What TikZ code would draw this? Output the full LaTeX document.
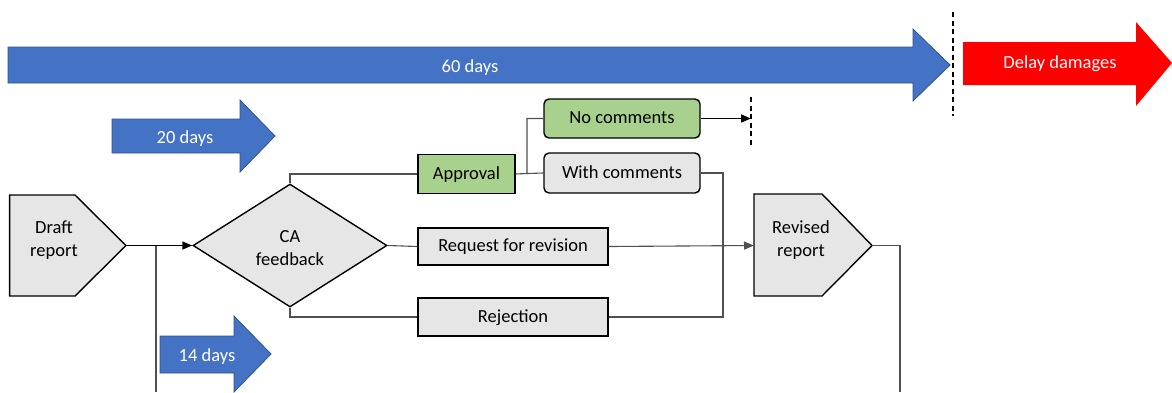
\documentclass[tikz,border=0pt]{standalone}
\usepackage{fontspec}
\setmainfont{Carlito}
\usetikzlibrary{shapes.geometric,arrows.meta}
\definecolor{cblue}{HTML}{4472C4}
\definecolor{cblueedge}{HTML}{2F528F}
\definecolor{cred}{HTML}{FF0000}
\definecolor{cgreen}{HTML}{A9D18E}
\definecolor{cgray}{HTML}{E6E6E6}
\definecolor{cline}{HTML}{505050}
\tikzset{
  txt/.style={font=\fontsize{18.5}{23}\selectfont, align=center, inner sep=0pt},
  wtxt/.style={txt, text=white},
  bluearrow/.style={fill=cblue, draw=cblueedge, line width=0.8pt},
  redarrow/.style={fill=cred},
  shapeline/.style={draw=black, line width=1.4pt, fill=cgray},
  box/.style={shapeline, rectangle, minimum height=38pt, inner sep=0pt, text height=13pt, text depth=3pt, font=\fontsize{18.5}{23}\selectfont},
  gbox/.style={box, fill=cgreen},
  conn/.style={draw=cline, line width=1.1pt},
  mainconn/.style={draw=black, line width=1.6pt},
  tip/.style={-{Triangle[length=10pt,width=8pt]}},
  dashline/.style={draw=black, line width=1.1pt, dash pattern=on 5pt off 3.5pt}
}
\begin{document}
\begin{tikzpicture}[x=1pt,y=-1pt]
\useasboundingbox (0,0) rectangle (1172,392);

% big arrows
\path[bluearrow] (8,47) -- (913,47) -- (913,29) -- (950,65) -- (913,101) -- (913,83) -- (8,83) -- cycle;
\node[wtxt] (d60) at (470,68) {60 days};
\path[redarrow] (963,42) -- (1136,42) -- (1136,22) -- (1172,63) -- (1136,106) -- (1136,85) -- (963,85) -- cycle;
\node[wtxt] (delay) at (1060,64) {Delay damages};
\path[bluearrow] (112,119) -- (240,119) -- (240,100) -- (275,136) -- (240,172) -- (240,153) -- (112,153) -- cycle;
\node[wtxt] (d20) at (185,139) {20 days};
\path[bluearrow] (160,336) -- (234,336) -- (234,316) -- (271,354) -- (234,392) -- (234,373) -- (160,373) -- cycle;
\node[wtxt] (d14) at (207,357) {14 days};

% dashed lines
\coordinate (dashAtop) at (953,12);
\coordinate (dashAbot) at (953,116);
\draw[dashline] (dashAtop) -- (dashAbot);
\coordinate (dashBtop) at (751,97);
\coordinate (dashBbot) at (751,145);
\draw[dashline] (dashBtop) -- (dashBbot);

% pentagons
\draw[shapeline] (9.6,195) -- (75,195) -- (126,245.5) -- (75,296) -- (9.6,296) -- cycle;
\node[txt] (draft) at (54,240.5) {Draft\\report};
\coordinate (draftTip) at (126,245.5);
\draw[shapeline] (754,194) -- (822,194) -- (872,245.5) -- (822,296) -- (754,296) -- cycle;
\node[txt] (revised) at (801,240.5) {Revised\\report};
\coordinate (revisedIn) at (754,245.5);
\coordinate (revisedTip) at (872,245.5);

% diamond
\node[shapeline, diamond, minimum width=194pt, minimum height=123pt, inner sep=0pt] (ca) at (290,245.5) {};
\node[txt] (catext) at (290,248) {CA\\feedback};

% boxes
\node[gbox, minimum width=97pt, minimum height=39pt] (approval) at (466.5,174) {Approval};
\node[gbox, minimum width=156pt, minimum height=39pt, rounded corners=5pt] (nocomm) at (622,118.5) {No comments};
\node[box, minimum width=156pt, minimum height=40pt, rounded corners=5pt] (withcomm) at (622,173) {With comments};
\node[box, minimum width=190pt, minimum height=37pt] (request) at (513,246.5) {Request for revision};
\node[box, minimum width=190pt, minimum height=38pt] (rejection) at (513,317) {Rejection};

% connectors
\draw[mainconn, tip] (draftTip) -- (ca.west);
\coordinate (b14) at (156,245.5);
\coordinate (b14end) at (156,392);
\draw[conn] (b14) -- (b14end);
\draw[conn] (ca.north) |- (approval.west);
\draw[conn] (ca.south) |- (rejection.west);
\draw[conn] (ca.east) -- (request.west);
\coordinate (split) at (527,173.5);
\draw[conn] (approval.east) -- (split) |- (nocomm.west);
\draw[conn] (split) -- (withcomm.west);
\draw[mainconn, tip] (nocomm.east) -- (dashBtop |- nocomm.east);
\coordinate (merge) at (723,317);
\draw[conn] (withcomm.east) -| (merge) -- (rejection.east);
\draw[conn, tip] (request.east) -- (revisedIn);
\coordinate (outEnd) at (900,392);
\draw[conn] (revisedTip) -| (outEnd);
\end{tikzpicture}
\end{document}
